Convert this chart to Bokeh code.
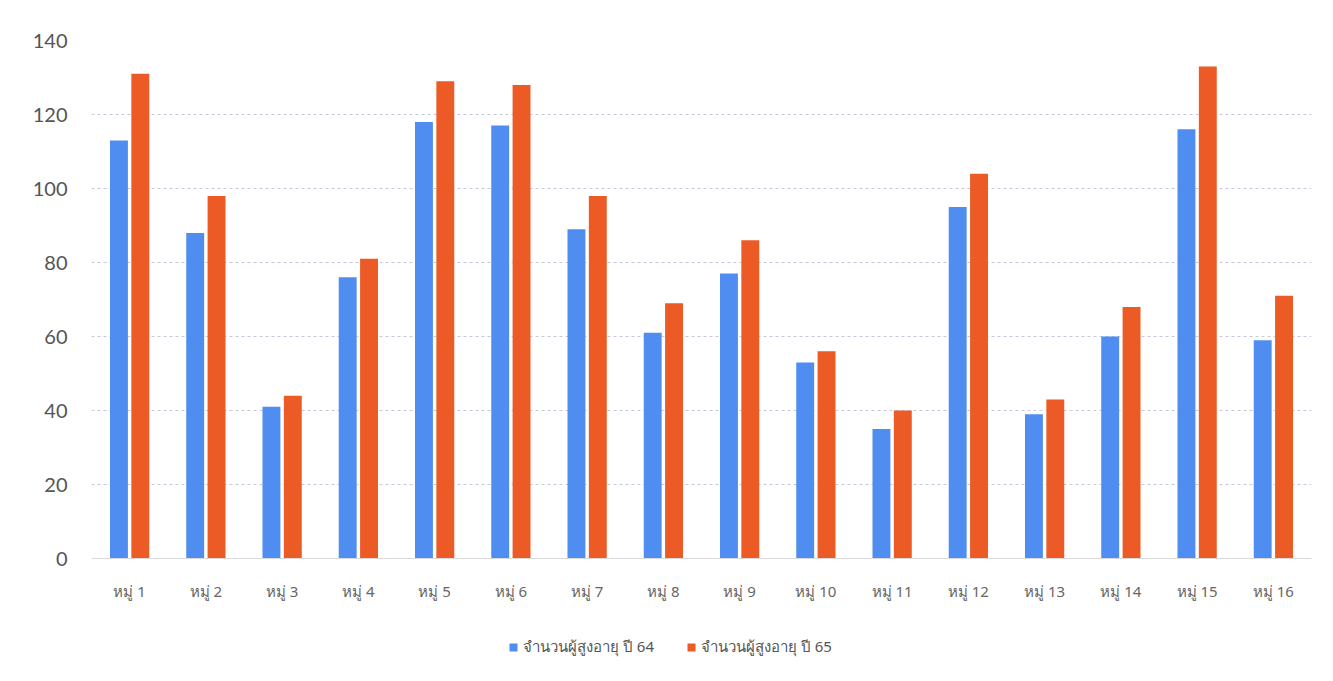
from bokeh.plotting import figure
from bokeh.layouts import column
from bokeh.models import ColumnDataSource, FactorRange, Legend, LegendItem, Range1d
from bokeh.transform import dodge
from bokeh.embed import file_html
from bokeh.resources import INLINE

villages = ["หมู่ 1", "หมู่ 2", "หมู่ 3", "หมู่ 4", "หมู่ 5", "หมู่ 6", "หมู่ 7", "หมู่ 8",
            "หมู่ 9", "หมู่ 10", "หมู่ 11", "หมู่ 12", "หมู่ 13", "หมู่ 14", "หมู่ 15", "หมู่ 16"]
elderly_64 = [113, 88, 41, 76, 118, 117, 89, 61, 77, 53, 35, 95, 39, 60, 116, 59]
elderly_65 = [131, 98, 44, 81, 129, 128, 98, 69, 86, 56, 40, 104, 43, 68, 133, 71]
series_names = ["จำนวนผู้สูงอายุ ปี 64", "จำนวนผู้สูงอายุ ปี 65"]
colors = ["#4f8ef0", "#ec5a26"]
y_ticks = [0, 20, 40, 60, 80, 100, 120, 140]

src = ColumnDataSource(dict(v=villages, a=elderly_64, b=elderly_65))

p = figure(width=1317, height=615, x_range=FactorRange(*villages, range_padding=0),
           y_range=(0, 140), output_backend="svg", toolbar_location=None,
           min_border_left=91, min_border_right=6, min_border_top=40, min_border_bottom=57)
p.outline_line_color = None

p.vbar(x=dodge("v", -0.14, range=p.x_range), top="a", width=0.235, source=src,
       fill_color=colors[0], line_color=None)
p.vbar(x=dodge("v", 0.14, range=p.x_range), top="b", width=0.235, source=src,
       fill_color=colors[1], line_color=None)

p.yaxis.ticker = y_ticks
p.yaxis.axis_line_color = None
p.yaxis.major_tick_line_color = None
p.yaxis.minor_tick_line_color = None
p.yaxis.major_label_text_font = "Lato"
p.yaxis.major_label_text_font_size = "20px"
p.yaxis.major_label_text_color = "#555555"
p.yaxis.major_label_standoff = 18

p.xaxis.axis_line_color = "#d9d9d9"
p.xaxis.major_tick_line_color = None
p.xaxis.minor_tick_line_color = None
p.xaxis.major_label_text_font = "Noto Sans"
p.xaxis.major_label_text_font_size = "15px"
p.xaxis.major_label_text_color = "#666666"
p.xaxis.major_label_standoff = 16

p.xgrid.grid_line_color = None
p.ygrid.grid_line_color = "#c8c8dc"
p.ygrid.grid_line_dash = "3 3"
p.ygrid.grid_line_width = 1

# legend strip below the chart (swatch renderers sit outside the visible range)
leg = figure(width=1317, height=60, x_range=Range1d(0, 1), y_range=Range1d(0, 1),
             output_backend="svg", toolbar_location=None,
             min_border_left=91, min_border_right=6, min_border_top=4, min_border_bottom=0)
leg.axis.visible = False
leg.grid.visible = False
leg.outline_line_color = None
d1 = leg.vbar(x=[0.5], bottom=[-6], top=[-5], width=0.01, fill_color=colors[0], line_color=None)
d2 = leg.vbar(x=[0.5], bottom=[-6], top=[-5], width=0.01, fill_color=colors[1], line_color=None)
legend = Legend(items=[LegendItem(label=series_names[0], renderers=[d1]),
                       LegendItem(label=series_names[1], renderers=[d2])],
                orientation="horizontal", location=(417, 16),
                label_text_font="Noto Sans", label_text_font_size="15px",
                label_text_color="#555555", glyph_width=10, glyph_height=10,
                label_standoff=5, spacing=32, border_line_color=None,
                background_fill_alpha=0, margin=0, padding=2)
leg.add_layout(legend, "center")

layout = column(p, leg, spacing=0)
open("out.html", "w").write(file_html(layout, INLINE))
